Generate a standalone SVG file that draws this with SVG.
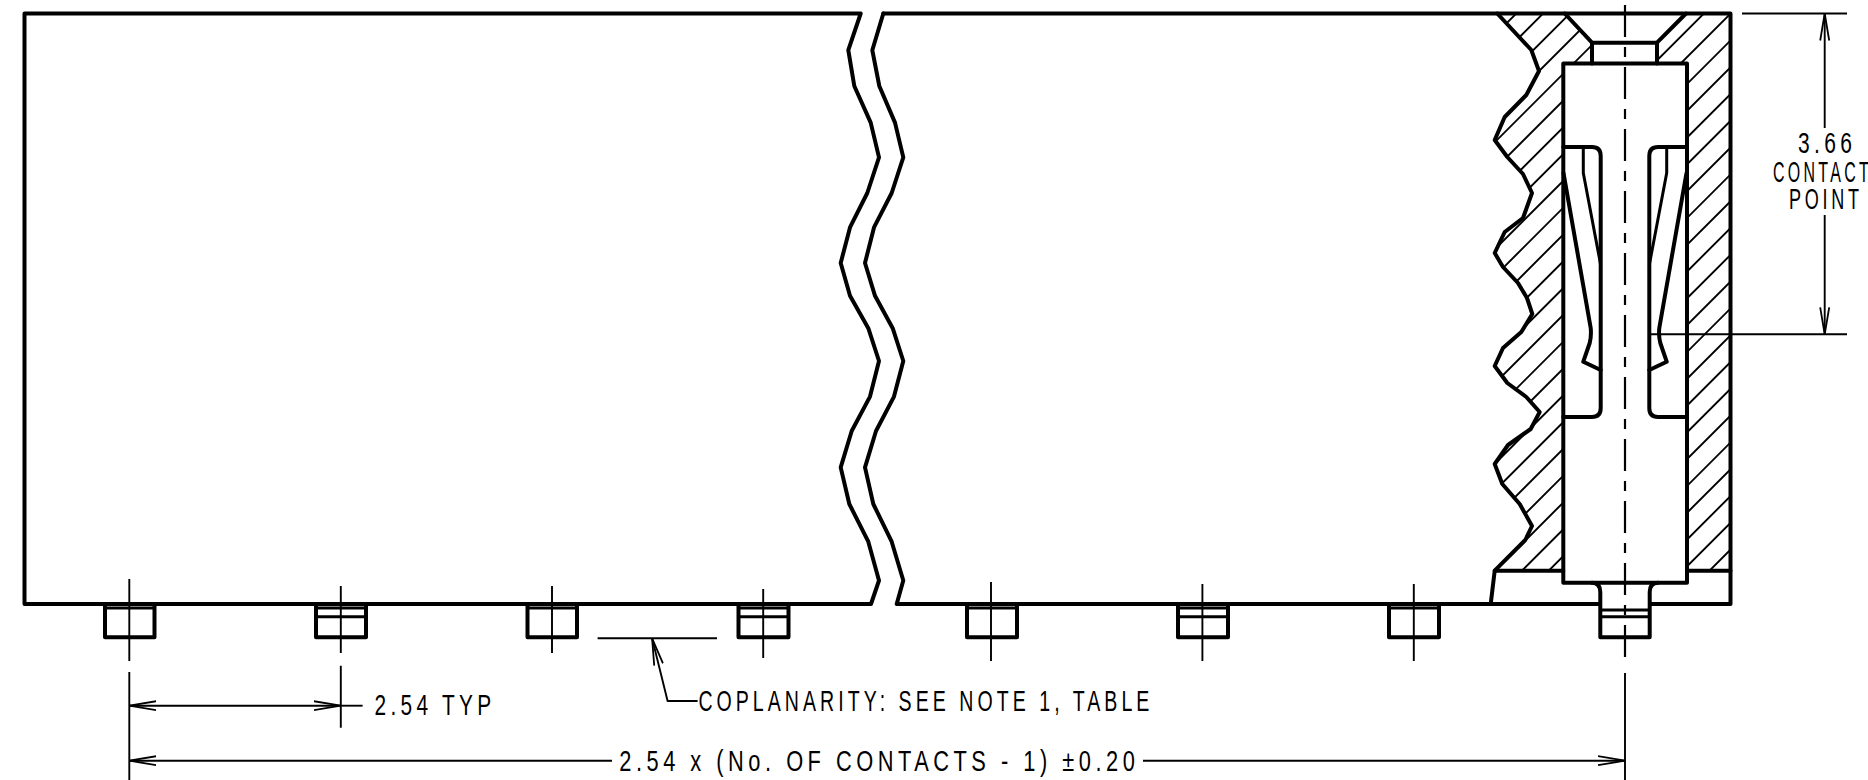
<svg xmlns="http://www.w3.org/2000/svg" width="1868" height="780" viewBox="0 0 1868 780">
<style>
.m{fill:none;stroke:#000;stroke-width:4;stroke-linejoin:round;stroke-linecap:round}
.s{fill:none;stroke:#000;stroke-width:3;stroke-linejoin:round;stroke-linecap:butt}
.t{fill:none;stroke:#000;stroke-width:1.9;stroke-linejoin:round}
.txt{font-family:"Liberation Sans",Arial,sans-serif;font-size:29px;letter-spacing:6px;fill:#000}
</style>
<defs>
<marker id="arr" markerUnits="userSpaceOnUse" markerWidth="30" markerHeight="12" refX="27" refY="6" orient="auto-start-reverse">
<path d="M0,1.5 L27,6 L0,10.5" fill="none" stroke="#000" stroke-width="1.8"/>
</marker>
<clipPath id="hatchL"><polygon points="1497.3,13.5 1531.3,50 1539,71 1526.3,95 1504.7,117 1494.7,140 1507.3,157 1523,174 1532,193 1523,218 1504.7,232 1494.7,253 1503,267 1518,283 1527,298 1532.3,314 1521.3,332 1503,348 1494.7,366 1507.3,383 1526.3,397 1539.7,412 1530.7,429 1508,445 1494.7,464 1502.3,484 1519.7,504 1532,526 1525.3,540 1494.7,570.7 1563.3,570.7 1563.3,63.5 1592,63.5 1592,42.7 1564.7,13.5"/></clipPath>
<clipPath id="hatchR"><polygon points="1686,13.5 1730.5,13.5 1730.5,570.7 1687,570.7 1687,63.5 1657,63.5 1657,42.7"/></clipPath>
<path id="hatchLines" d="M1529.8,0l-700,700M1556.6,0l-700,700M1583.4,0l-700,700M1610.2,0l-700,700M1637,0l-700,700M1663.8,0l-700,700M1690.6,0l-700,700M1717.4,0l-700,700M1744.2,0l-700,700M1771,0l-700,700M1797.8,0l-700,700M1824.6,0l-700,700M1851.4,0l-700,700M1878.2,0l-700,700M1905,0l-700,700M1931.8,0l-700,700M1958.6,0l-700,700M1985.4,0l-700,700M2012.2,0l-700,700M2039,0l-700,700M2065.8,0l-700,700M2092.6,0l-700,700M2119.4,0l-700,700M2146.2,0l-700,700M2173,0l-700,700M2199.8,0l-700,700M2226.6,0l-700,700M2253.4,0l-700,700M2280.2,0l-700,700" fill="none" stroke="#000" stroke-width="1.9"/>
</defs>
<rect width="1868" height="780" fill="#fff"/>

<g id="hatching">
<use href="#hatchLines" clip-path="url(#hatchL)"/>
<use href="#hatchLines" clip-path="url(#hatchR)"/>
</g>

<g id="housing-left">
<path class="m" d="M860.7,13.5 H24.5 V604 H871 L879,580.5 868.3,541.7 849.3,504 840.7,467.4 851.7,431 870,396.6 879,361 868.3,328.2 850,295.8 840.7,263 850,227.4 867.3,193 879,157.4 870.7,122.6 854.3,86 848.3,50.2 860.7,13.5"/>
</g>
<g id="housing-right">
<path class="m" d="M883.3,13.5 L872.3,50.2 879.3,86 895,122.6 903.3,157.4 891.7,193 874,227.4 865,263 875,295.8 892.7,328.2 903.3,361 894,396.6 876,431 865,467.4 873.3,504 891.7,541.7 903.3,580.5 896.7,604 H1600"/>
<path class="m" d="M883.3,13.5 H1730.5 V604 H1650"/>
</g>
<g id="section">
<path class="m" d="M1497.3,13.5 L1531.3,50 1539,71 1526.3,95 1504.7,117 1494.7,140 1507.3,157 1523,174 1532,193 1523,218 1504.7,232 1494.7,253 1503,267 1518,283 1527,298 1532.3,314 1521.3,332 1503,348 1494.7,366 1507.3,383 1526.3,397 1539.7,412 1530.7,429 1508,445 1494.7,464 1502.3,484 1519.7,504 1532,526 1525.3,540 1494.7,570.7 L1490.7,604"/>
<path class="m" d="M1494.7,570.7 H1563.3 M1687,570.7 H1730.5"/>
<path class="m" d="M1564.7,13.5 L1592,42.7 H1657 L1686,13.5 M1592,42.7 V63.5 M1657,42.7 V63.5"/>
</g>
<g id="contact-cavity">
<rect class="m" x="1563.3" y="63.5" width="123.7" height="519.2"/>
<path class="m" d="M1563.3,147 H1592 Q1600.7,147 1600.7,156 V408 Q1600.7,417 1592,417 H1563.3"/>
<path class="m" d="M1687,147 H1658 Q1649.3,147 1649.3,156 V408 Q1649.3,417 1658,417 H1687"/>
</g>
<g id="contact-left">
<path class="s" d="M1583.3,147 V173 L1600.7,265"/>
<path class="m" d="M1563.5,173 L1590.7,328 Q1591.5,336 1589.7,343 L1583.3,361.7 1600.7,370"/>
</g>
<g id="contact-right">
<path class="s" d="M1666.7,147 V173 L1649.3,265"/>
<path class="m" d="M1686.5,173 L1659.3,328 Q1658.5,336 1660.3,343 L1666.7,361.7 1649.3,370"/>
</g>
<g id="pin-8">
<path class="m" d="M1592,582.7 Q1600.3,583 1600.3,592 V637.3 H1649.7 V592 Q1649.7,583 1658,582.7"/>
<path class="s" d="M1600.3,610 H1649.7 M1600.3,616.7 H1649.7"/>
</g>

<g id="pin-1"><path class="m" d="M105,604 V637.3 H154.5 V604"/><path class="s" d="M105,608 H154.5"/></g>
<g id="pin-2"><path class="m" d="M316,604 V637.3 H366 V604"/><path class="s" d="M316,608 H366 M316,616.7 H366"/></g>
<g id="pin-3"><path class="m" d="M527.5,604 V637.3 H577 V604"/><path class="s" d="M527.5,608 H577"/></g>
<g id="pin-4"><path class="m" d="M738.5,604 V637.3 H788.5 V604"/><path class="s" d="M738.5,608 H788.5 M738.5,616.7 H788.5"/></g>
<g id="pin-5"><path class="m" d="M967,604 V637.3 H1017 V604"/><path class="s" d="M967,608 H1017"/></g>
<g id="pin-6"><path class="m" d="M1178,604 V637.3 H1228 V604"/><path class="s" d="M1178,608 H1228 M1178,616.7 H1228"/></g>
<g id="pin-7"><path class="m" d="M1389,604 V637.3 H1439 V604"/><path class="s" d="M1389,608 H1439"/></g>

<g id="connectors">
<path class="t" d="M129.3,579 V661 M340.8,586 V653 M552,586 V653 M763.2,589 V658 M991,582 V661 M1202.4,584 V661 M1413.8,584 V661"/>
<path class="t" stroke-dasharray="32 10 10 10" d="M1625,-57 V661" style="stroke-width:2.2"/>
<path class="t" d="M129.3,672 V780 M340.8,665.7 V727.7 M1625,673 V780"/>
<path class="t" d="M129.3,705.7 H340.8" marker-start="url(#arr)" marker-end="url(#arr)"/>
<path class="t" d="M340.8,705.7 H362.6"/>
<path class="t" d="M612,760.7 H129.3" marker-end="url(#arr)"/>
<path class="t" d="M1143,760.7 H1625" marker-end="url(#arr)"/>
<path class="t" d="M597.6,638.3 H717"/>
<path class="t" d="M697.6,701 H667.6 L652.1,638.3" marker-end="url(#arr)"/>
<path class="t" d="M1742,13.5 H1847 M1651,334.3 H1847"/>
<path class="t" d="M1824.7,128 V13.5" marker-end="url(#arr)"/>
<path class="t" d="M1824.7,215 V334.3" marker-end="url(#arr)"/>
</g>

<g id="labels">
<text class="txt" x="374.5" y="715.3" textLength="121" lengthAdjust="spacingAndGlyphs">2.54 TYP</text>
<text class="txt" x="698.4" y="711" textLength="455" lengthAdjust="spacingAndGlyphs">COPLANARITY: SEE NOTE 1, TABLE</text>
<text class="txt" x="619.3" y="770.7" textLength="520" lengthAdjust="spacingAndGlyphs">2.54 x (No. OF CONTACTS - 1) ±0.20</text>
<text class="txt" transform="translate(1798,153) scale(.6,1)" textLength="97" lengthAdjust="spacingAndGlyphs">3.66</text>
<text class="txt" transform="translate(1773,182) scale(.6,1)" textLength="165" lengthAdjust="spacingAndGlyphs">CONTACT</text>
<text class="txt" transform="translate(1789,209) scale(.6,1)" textLength="123" lengthAdjust="spacingAndGlyphs">POINT</text>
</g>
</svg>
